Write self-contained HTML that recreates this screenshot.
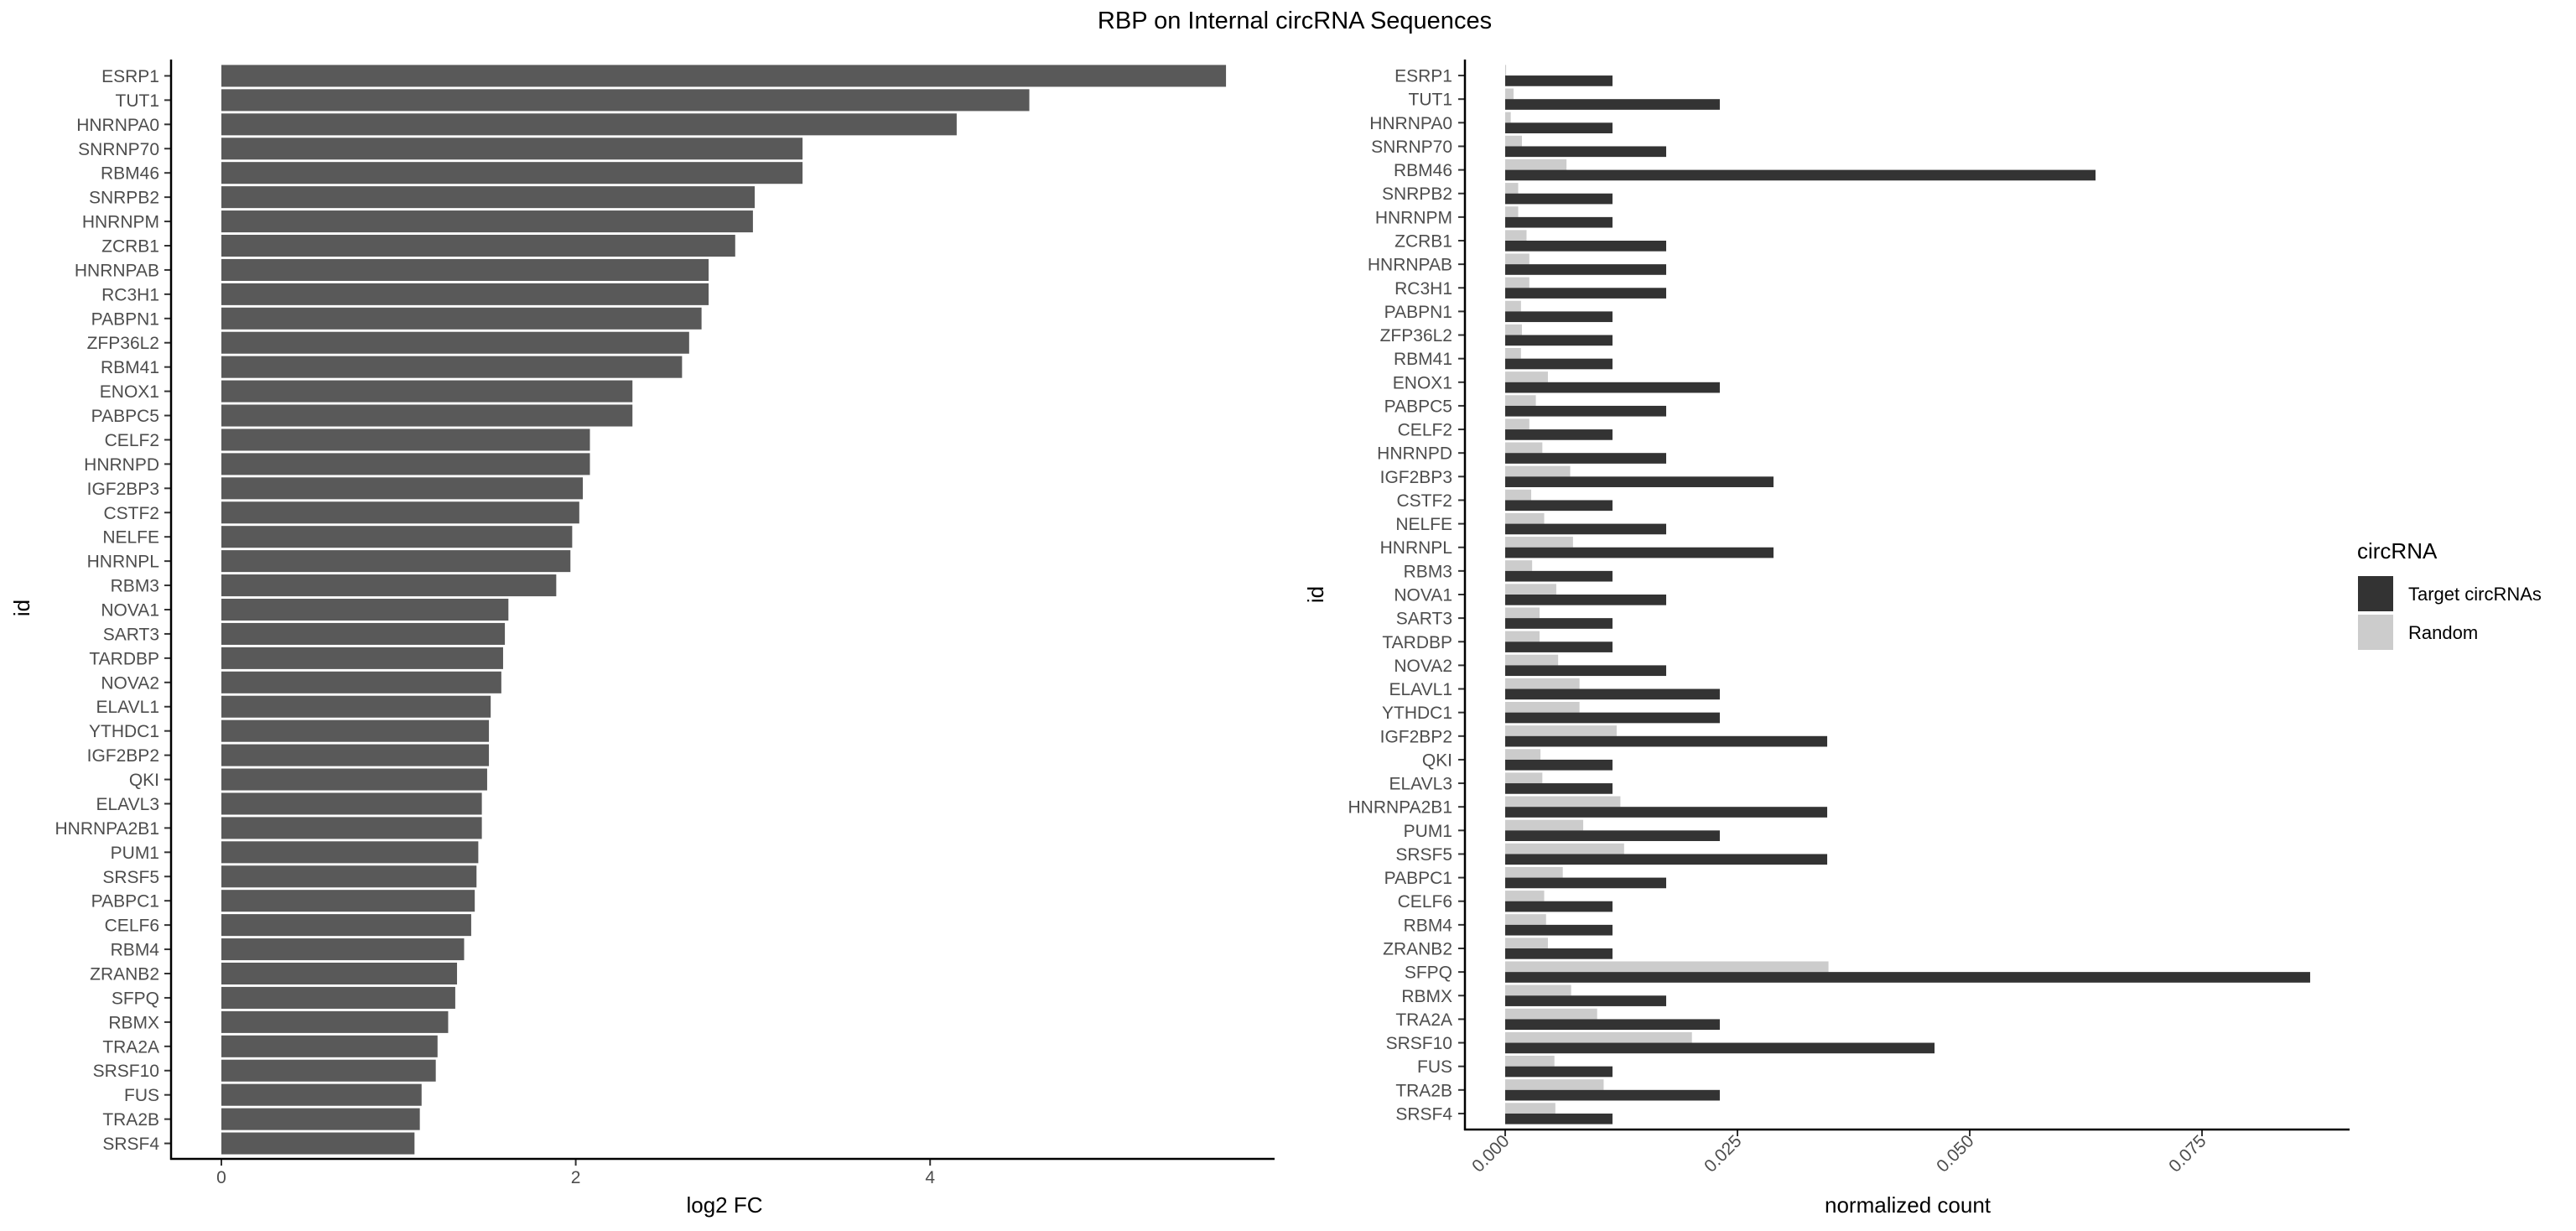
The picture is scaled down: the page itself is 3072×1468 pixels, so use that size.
<!DOCTYPE html>
<html><head><meta charset="utf-8"><style>
html,body{margin:0;padding:0;background:#fff;}
svg{display:block;font-family:"Liberation Sans",Arial,sans-serif;}
</style></head><body>
<svg id="chart" width="3072" height="1468" viewBox="0 0 3072 1468" xmlns="http://www.w3.org/2000/svg">
<text x="1544" y="34" font-size="29" text-anchor="middle" fill="#000">RBP on Internal circRNA Sequences</text>
<g id="left"></g>
<g id="right"></g>
<g>
<text x="2811" y="666" font-size="26" fill="#000">circRNA</text>
<rect x="2812" y="687" width="42" height="42" fill="#333333"/>
<text x="2872" y="716" font-size="22" fill="#000">Target circRNAs</text>
<rect x="2812" y="733" width="42" height="42" fill="#cccccc"/>
<text x="2872" y="762" font-size="22" fill="#000">Random</text>
</g>
</svg>
<script>
const ids = ["ESRP1","TUT1","HNRNPA0","SNRNP70","RBM46","SNRPB2","HNRNPM","ZCRB1","HNRNPAB","RC3H1","PABPN1","ZFP36L2","RBM41","ENOX1","PABPC5","CELF2","HNRNPD","IGF2BP3","CSTF2","NELFE","HNRNPL","RBM3","NOVA1","SART3","TARDBP","NOVA2","ELAVL1","YTHDC1","IGF2BP2","QKI","ELAVL3","HNRNPA2B1","PUM1","SRSF5","PABPC1","CELF6","RBM4","ZRANB2","SFPQ","RBMX","TRA2A","SRSF10","FUS","TRA2B","SRSF4"];
const log2fc = [5.67,4.56,4.15,3.28,3.28,3.01,3.0,2.90,2.75,2.75,2.71,2.64,2.60,2.32,2.32,2.08,2.08,2.04,2.02,1.98,1.97,1.89,1.62,1.60,1.59,1.58,1.52,1.51,1.51,1.50,1.47,1.47,1.45,1.44,1.43,1.41,1.37,1.33,1.32,1.28,1.22,1.21,1.13,1.12,1.09];
const targetCount = [0.01155,0.0231,0.01155,0.01733,0.06354,0.01155,0.01155,0.01733,0.01733,0.01733,0.01155,0.01155,0.01155,0.0231,0.01733,0.01155,0.01733,0.02888,0.01155,0.01733,0.02888,0.01155,0.01733,0.01155,0.01155,0.01733,0.0231,0.0231,0.03466,0.01155,0.01155,0.03466,0.0231,0.03466,0.01733,0.01155,0.01155,0.01155,0.08664,0.01733,0.0231,0.04621,0.01155,0.0231,0.01155];
const randomCount = [0.0001,0.0009,0.0006,0.0018,0.0066,0.0014,0.0014,0.0023,0.0026,0.0026,0.0017,0.0018,0.0017,0.0046,0.0033,0.0026,0.0040,0.0070,0.0028,0.0042,0.0073,0.0029,0.0055,0.0037,0.0037,0.0057,0.0080,0.0080,0.0120,0.0038,0.0040,0.0124,0.0084,0.0128,0.0062,0.0042,0.0044,0.0046,0.0348,0.0071,0.0099,0.0201,0.0053,0.0106,0.0054];
const leftTicks = [0,2,4];
const rightTicks = [0,0.025,0.05,0.075];
const rightTickLabels = ["0.000","0.025","0.050","0.075"];

const NS="http://www.w3.org/2000/svg";
function mk(tag, attrs, parent, text){const e=document.createElementNS(NS,tag);for(const k in attrs)e.setAttribute(k,attrs[k]);if(text!==undefined)e.textContent=text;parent.appendChild(e);return e;}

// LEFT PANEL
const L=document.getElementById('left');
const lx0=264, lpx=211.3, ltop=76, lstep=(1378-76)/ids.length;
const lxs=v=>lx0+v*lpx;
const lyc=i=>ltop+lstep*(i+0.5);
ids.forEach((id,i)=>{
  const bw=lstep*0.9;
  const r=mk('rect',{x:lxs(0),y:lyc(i)-bw/2,width:lxs(log2fc[i])-lxs(0),height:bw,fill:'#595959'},L);
  
  
  const t=mk('text',{x:190,y:lyc(i)+7.5,'font-size':21,'text-anchor':'end',fill:'#4d4d4d'},L,id);
  
  
  const tk=mk('line',{x1:196,x2:204,y1:lyc(i),y2:lyc(i),stroke:'#333',"stroke-width":2},L);
  
  
});
leftTicks.forEach(v=>{
  const tk=mk('line',{x1:lxs(v),x2:lxs(v),y1:1382,y2:1390,stroke:'#333',"stroke-width":2},L);
  
  
  const t=mk('text',{x:lxs(v),y:1411,'font-size':21,'text-anchor':'middle',fill:'#4d4d4d'},L,String(v));
  
  
});
let a=mk('line',{x1:204,x2:204,y1:71,y2:1383,stroke:'#000',"stroke-width":2.5},L);

a=mk('line',{x1:203,x2:1520,y1:1382,y2:1382,stroke:'#000',"stroke-width":2.5},L);

a=mk('text',{x:864,y:1446,'font-size':26,'text-anchor':'middle',fill:'#000'},L,'log2 FC');

a=mk('text',{x:0,y:0,'font-size':26,'text-anchor':'middle',fill:'#000',transform:'translate(35,725) rotate(-90)'},L,'id');


// RIGHT PANEL
const R=document.getElementById('right');
const rx0=1795, rpx=11080, rtop=76, rstep=(1342-76)/ids.length;
const rxs=v=>rx0+v*rpx;
const ryc=i=>rtop+rstep*(i+0.5);
ids.forEach((id,i)=>{
  const bw=rstep*0.9/2;
  const rr=mk('rect',{x:rxs(0),y:ryc(i)-bw,width:rxs(randomCount[i])-rxs(0),height:bw,fill:'#cccccc'},R);
  
  
  const rt=mk('rect',{x:rxs(0),y:ryc(i),width:rxs(targetCount[i])-rxs(0),height:bw,fill:'#333333'},R);
  
  
  const t=mk('text',{x:1732,y:ryc(i)+7.5,'font-size':21,'text-anchor':'end',fill:'#4d4d4d'},R,id);
  
  
  const tk=mk('line',{x1:1739,x2:1747,y1:ryc(i),y2:ryc(i),stroke:'#333',"stroke-width":2},R);
  
  
});
rightTicks.forEach((v,k)=>{
  const tk=mk('line',{x1:rxs(v),x2:rxs(v),y1:1347,y2:1355,stroke:'#333',"stroke-width":2},R);
  
  
  const t=mk('text',{x:0,y:0,'font-size':21,'text-anchor':'end',fill:'#4d4d4d',transform:'translate('+(rxs(v)+6)+',1362) rotate(-45)'},R,rightTickLabels[k]);
  
  
});
a=mk('line',{x1:1747,x2:1747,y1:71,y2:1348,stroke:'#000',"stroke-width":2.5},R);

a=mk('line',{x1:1746,x2:2802,y1:1347,y2:1347,stroke:'#000',"stroke-width":2.5},R);

a=mk('text',{x:2275,y:1446,'font-size':26,'text-anchor':'middle',fill:'#000'},R,'normalized count');

a=mk('text',{x:0,y:0,'font-size':26,'text-anchor':'middle',fill:'#000',transform:'translate(1578,709) rotate(-90)'},R,'id');

</script>
</body></html>
